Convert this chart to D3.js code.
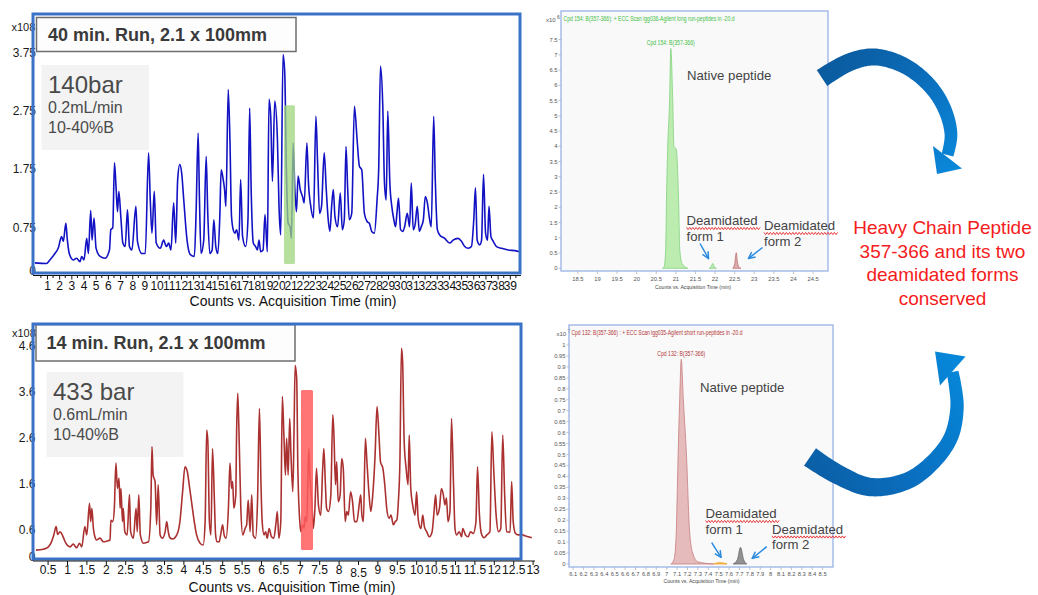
<!DOCTYPE html>
<html>
<head>
<meta charset="utf-8">
<script src="https://cdn.jsdelivr.net/npm/d3@7"></script>
<style>
  body { margin: 0; background: #fff; }
  svg { display: block; }
  text { font-family: "Liberation Sans", Arial, Helvetica, sans-serif; }
</style>
</head>
<body>
<svg id="fig" width="1038" height="595"></svg>
<script>
// ---------------- Data ----------------
// Total ion chromatogram, 40 min gradient (time in min, counts x10^8)
const longRunTrace = [
  [0,0.14],[0.96,0.13],[1.24,0.19],[1.65,0.30],[1.92,0.39],[2.20,0.59],[2.34,0.51],[2.55,0.82],[2.66,0.56],[2.83,0.30],
  [3.16,0.19],[3.43,0.22],[3.71,0.16],[3.85,0.25],[4.04,0.19],[4.26,0.56],[4.40,0.30],[4.59,1.04],[4.70,0.53],[4.86,0.91],
  [5.03,0.39],[5.36,0.25],[5.77,0.22],[6.13,0.36],[6.24,0.71],[6.40,0.74],[6.54,1.86],[6.68,1.40],[6.79,1.02],[6.90,1.37],
  [7.06,0.94],[7.23,0.48],[7.42,0.42],[7.61,1.05],[7.77,0.42],[7.97,0.36],[8.30,1.11],[8.43,0.51],[8.79,0.30],[9.07,0.30],
  [9.34,2.03],[9.48,1.22],[9.62,0.65],[9.81,1.37],[9.97,0.48],[10.30,0.39],[10.58,0.53],[10.80,0.42],[10.99,0.48],[11.18,0.36],
  [11.40,1.17],[11.57,0.48],[11.73,1.57],[11.90,1.83],[12.06,1.68],[12.23,1.22],[12.50,0.53],[12.77,0.28],[13.10,0.25],[13.24,0.99],
  [13.41,2.37],[13.52,1.22],[13.65,0.30],[13.87,0.53],[14.07,1.97],[14.20,0.99],[14.37,0.30],[14.56,0.36],[14.70,0.88],[14.86,0.42],
  [15.03,0.30],[15.19,0.94],[15.30,1.74],[15.47,1.57],[15.58,1.40],[15.69,1.11],[15.88,3.12],[16.02,2.26],[16.15,0.94],[16.29,0.71],
  [16.43,0.65],[16.57,0.71],[16.76,0.53],[16.90,1.57],[17.06,0.59],[17.31,0.42],[17.50,0.88],[17.64,2.80],[17.77,1.34],[17.94,0.48],
  [18.13,0.42],[18.27,0.36],[18.41,0.53],[18.54,0.33],[18.74,0.36],[18.90,0.97],[19.09,0.33],[19.23,2.95],[19.37,2.66],[19.51,1.54],
  [19.70,2.92],[19.92,2.26],[20.05,1.11],[20.19,0.62],[20.38,3.72],[20.52,3.41],[20.66,1.68],[20.80,0.82],[20.96,0.76],[21.07,0.56],
  [21.21,2.20],[21.35,1.40],[21.48,1.02],[21.62,1.63],[21.79,1.40],[21.98,1.28],[22.12,1.17],[22.34,2.20],[22.47,1.51],[22.66,1.11],
  [22.88,0.91],[23.08,2.66],[23.21,1.91],[23.38,0.99],[23.54,1.11],[23.76,2.03],[23.93,1.40],[24.09,0.88],[24.23,0.68],[24.37,1.11],
  [24.51,1.40],[24.64,0.94],[24.86,0.76],[25.08,1.34],[25.25,0.71],[25.41,0.88],[25.55,2.14],[25.69,1.40],[25.82,0.88],[26.02,0.99],
  [26.24,2.83],[26.46,2.26],[26.65,1.80],[26.84,1.74],[27.06,0.99],[27.28,0.85],[27.47,0.82],[27.66,0.68],[27.88,0.65],[28.10,1.22],
  [28.24,1.80],[28.38,3.52],[28.57,2.83],[28.71,1.51],[28.85,1.22],[28.98,2.75],[29.15,1.51],[29.31,1.11],[29.48,0.88],[29.62,0.76],
  [29.73,0.99],[29.86,1.25],[30.03,0.71],[30.22,0.68],[30.36,0.76],[30.58,0.99],[30.77,0.76],[30.91,1.51],[31.07,0.71],[31.24,0.82],
  [31.40,1.11],[31.57,0.68],[31.73,0.76],[31.90,0.88],[32.06,1.28],[32.23,1.17],[32.42,0.88],[32.55,0.76],[32.75,2.66],[32.88,1.57],
  [33.05,0.71],[33.24,0.62],[33.65,0.56],[34.07,0.48],[34.34,0.53],[34.75,0.56],[35.03,0.51],[35.30,0.42],[35.58,0.39],[35.85,0.42],
  [36.04,0.88],[36.18,1.43],[36.32,0.53],[36.54,0.45],[36.68,0.53],[36.84,1.66],[37.01,0.65],[37.17,0.53],[37.29,1.11],[37.45,0.59],
  [37.64,0.51],[37.91,0.42],[38.32,0.39],[38.87,0.36],[39.42,0.35],[39.84,0.33]
];

// Total ion chromatogram, 14 min gradient (time in min, counts x10^8)
const shortRunTrace = [
  [0.20,0.15],[0.39,0.17],[0.52,0.22],[0.60,0.33],[0.66,0.48],[0.72,0.66],[0.76,0.49],[0.82,0.55],[0.86,0.51],[0.91,0.42],
  [0.97,0.30],[1.08,0.22],[1.16,0.28],[1.25,0.20],[1.32,0.30],[1.38,0.22],[1.46,0.66],[1.51,0.48],[1.58,1.17],[1.61,0.77],
  [1.64,1.06],[1.68,0.62],[1.72,0.44],[1.76,0.37],[1.85,0.41],[1.94,0.33],[2.04,0.35],[2.11,0.37],[2.13,0.80],[2.18,0.77],
  [2.22,1.06],[2.26,2.04],[2.30,1.49],[2.34,1.71],[2.37,1.06],[2.39,1.49],[2.43,0.77],[2.45,1.06],[2.49,0.55],[2.55,0.48],
  [2.61,1.36],[2.64,0.55],[2.71,0.41],[2.78,1.06],[2.81,0.55],[2.85,1.35],[2.89,0.48],[2.97,0.30],[3.10,0.33],[3.16,1.06],
  [3.19,2.40],[3.22,1.78],[3.27,1.64],[3.31,0.70],[3.35,1.57],[3.40,0.48],[3.46,0.41],[3.53,0.55],[3.57,0.77],[3.61,0.55],
  [3.65,0.42],[3.72,0.39],[3.83,0.48],[3.91,0.77],[3.98,1.42],[4.04,1.96],[4.10,1.86],[4.15,1.57],[4.21,1.20],[4.28,0.77],
  [4.34,0.48],[4.43,0.30],[4.51,0.26],[4.56,0.77],[4.60,2.76],[4.63,2.51],[4.67,0.77],[4.71,0.48],[4.75,2.36],[4.80,1.20],
  [4.83,0.48],[4.87,0.33],[4.92,0.33],[4.96,0.48],[5.01,0.70],[5.05,0.48],[5.10,0.41],[5.16,1.06],[5.20,2.04],[5.24,1.49],
  [5.27,1.64],[5.30,1.06],[5.35,1.35],[5.37,2.65],[5.40,3.56],[5.43,2.80],[5.48,1.06],[5.53,0.48],[5.59,0.62],[5.63,0.70],
  [5.67,1.24],[5.72,0.55],[5.76,1.35],[5.80,0.48],[5.86,0.41],[5.91,1.20],[5.96,3.23],[6.00,1.57],[6.03,0.77],[6.08,0.48],
  [6.12,0.55],[6.16,0.41],[6.21,0.62],[6.27,0.44],[6.33,0.41],[6.39,0.77],[6.42,0.99],[6.46,0.41],[6.51,0.77],[6.55,3.49],
  [6.59,2.65],[6.63,1.78],[6.66,2.58],[6.70,1.78],[6.74,3.01],[6.77,2.29],[6.82,1.42],[6.85,2.65],[6.88,4.17],[6.92,3.88],
  [6.95,1.93],[7.00,0.77],[7.03,0.55],[7.07,0.70],[7.11,0.62],[7.14,0.88],[7.18,0.77],[7.23,2.36],[7.26,1.78],[7.31,1.20],
  [7.35,0.62],[7.39,1.06],[7.43,1.93],[7.48,1.13],[7.54,0.91],[7.59,1.93],[7.62,2.36],[7.66,1.57],[7.69,1.06],[7.74,0.99],
  [7.80,1.35],[7.85,3.09],[7.88,2.65],[7.92,1.57],[7.95,2.07],[7.99,1.20],[8.04,1.35],[8.08,2.14],[8.12,1.93],[8.17,0.77],
  [8.21,0.99],[8.25,0.91],[8.31,1.42],[8.36,1.20],[8.41,0.77],[8.47,0.77],[8.53,1.13],[8.57,1.35],[8.60,0.91],[8.64,0.77],
  [8.69,2.58],[8.73,2.07],[8.78,1.42],[8.83,0.99],[8.88,1.35],[8.94,2.21],[8.99,3.27],[9.04,2.65],[9.08,2.07],[9.14,1.93],
  [9.19,1.57],[9.24,1.06],[9.30,0.84],[9.35,0.91],[9.41,0.70],[9.46,0.77],[9.50,0.80],[9.54,1.20],[9.58,2.07],[9.62,4.54],
  [9.65,4.25],[9.69,2.51],[9.74,1.93],[9.79,1.57],[9.82,2.65],[9.86,1.49],[9.91,1.13],[9.97,0.91],[10.01,1.42],[10.05,0.84],
  [10.12,0.62],[10.17,0.91],[10.21,0.66],[10.27,0.55],[10.34,0.44],[10.41,0.55],[10.46,0.99],[10.50,1.35],[10.54,0.91],[10.60,1.06],
  [10.65,1.49],[10.70,1.35],[10.74,1.13],[10.78,1.28],[10.82,0.77],[10.87,0.99],[10.91,3.01],[10.96,1.64],[11.00,0.62],[11.04,0.48],
  [11.11,0.55],[11.17,0.44],[11.20,0.62],[11.27,0.48],[11.34,0.44],[11.40,0.55],[11.47,0.51],[11.54,0.77],[11.58,1.96],[11.63,0.91],
  [11.69,0.48],[11.75,0.42],[11.82,0.48],[11.90,0.55],[11.95,2.72],[12.00,1.86],[12.06,0.91],[12.12,0.55],[12.18,0.62],[12.23,2.65],
  [12.28,1.35],[12.33,0.55],[12.42,0.54],[12.46,1.64],[12.50,0.77],[12.56,0.51],[12.63,0.48],[12.72,0.49],[12.80,0.46],[12.89,0.44],
  [12.98,0.42]
];

const longRunXTicks = [1,2,3,4,5,6,7,8,9,10,11,12,13,14,15,16,17,18,19,20,21,22,23,24,25,26,27,28,29,30,31,32,33,34,35,36,37,38,39];
const longRunYTicks = [0, 0.75, 1.75, 2.75, 3.75];
const shortRunXTicks = [0.5,1,1.5,2,2.5,3,3.5,4,4.5,5,5.5,6,6.5,7,7.5,8,8.5,9,9.5,10,10.5,11,11.5,12,12.5,13];
const shortRunYTicks = [0, 0.6, 1.6, 2.6, 3.6, 4.6];

// Retention window of the 357-366 peptide in each TIC (min, counts x10^8)
const longRunWindow = { t0: 20.46, t1: 21.36, v0: 0.12, v1: 2.85 };
const shortRunWindow = { t0: 7.03, t1: 7.34, v0: 0.15, v1: 3.63 };

const longRunTitle = "40 min. Run, 2.1 x 100mm";
const longRunConditions = ["140bar", "0.2mL/min", "10-40%B"];
const shortRunTitle = "14 min. Run, 2.1 x 100mm";
const shortRunConditions = ["433 bar", "0.6mL/min", "10-40%B"];

// Extracted compound chromatograms (time in min; counts x10^6 for long run, x10^7 for short run)
const longEicNative = [[20.66,0],[20.70,0.05],[20.74,0.6],[20.76,2.2],[20.79,3.9],[20.84,5.5],[20.87,7.21],[20.92,5.5],[20.95,4.0],[21.01,3.9],[21.07,2.2],[21.10,0.6],[21.16,0.15],[21.30,0]];
const longEicDeam1 = [[21.85,0],[21.90,0.05],[21.94,0.16],[21.98,0.05],[22.03,0]];
const longEicDeam2 = [[22.45,0],[22.50,0.15],[22.54,0.51],[22.57,0.2],[22.62,0.02],[22.66,0]];
const longEicXTicks = [18.5,19,19.5,20,20.5,21,21.5,22,22.5,23,23.5,24,24.5];
const longEicYTicks = [0,0.5,1,1.5,2,2.5,3,3.5,4,4.5,5,5.5,6,6.5,7,7.5];

const shortEicNative = [[7.04,0],[7.07,0.02],[7.09,0.12],[7.11,0.5],[7.125,0.75],[7.14,0.935],[7.16,0.75],[7.19,0.5],[7.22,0.15],[7.25,0.05],[7.30,0.01],[7.45,0]];
const shortEicDeam1 = [[7.45,0],[7.50,0.006],[7.55,0.004],[7.58,0]];
const shortEicDeam2 = [[7.64,0],[7.68,0.02],[7.71,0.076],[7.74,0.02],[7.77,0]];
const shortEicXTicks = [6.1,6.2,6.3,6.4,6.5,6.6,6.7,6.8,6.9,7,7.1,7.2,7.3,7.4,7.5,7.6,7.7,7.8,7.9,8,8.1,8.2,8.3,8.4,8.5];
const shortEicYTicks = [0,0.05,0.1,0.15,0.2,0.25,0.3,0.35,0.4,0.45,0.5,0.55,0.6,0.65,0.7,0.75,0.8,0.85,0.9,0.95,1];

const conclusionLines = ["Heavy Chain Peptide", "357-366 and its two", "deamidated forms", "conserved"];

// ---------------- Drawing ----------------
const svg = d3.select("#fig");
const defs = svg.append("defs");
const fmt = d => String(d);

function drawTic(cfg) {
  const g = svg.append("g");
  const x = d3.scaleLinear().domain(cfg.xDomain).range(cfg.xRange);
  const y = d3.scaleLinear().domain(cfg.yDomain).range(cfg.yRange);
  const f = cfg.frame;

  // condition box
  g.append("rect").attr("x", cfg.condBox[0]).attr("y", cfg.condBox[1])
    .attr("width", cfg.condBox[2]).attr("height", cfg.condBox[3]).attr("fill", "#f3f3f3");
  cfg.conditions.forEach((t, i) => {
    g.append("text").attr("x", cfg.condText[0]).attr("y", cfg.condText[1] + (i === 0 ? 0 : 20 + (i - 1) * 19.7))
      .attr("font-size", i === 0 ? 24 : 16).attr("fill", "#4a4a4a").text(t);
  });

  // title box
  g.append("rect").attr("x", cfg.titleBox[0]).attr("y", cfg.titleBox[1])
    .attr("width", cfg.titleBox[2]).attr("height", cfg.titleBox[3])
    .attr("fill", "#fdfdfd").attr("stroke", "#6e6e6e").attr("stroke-width", 1.5);
  g.append("text").attr("x", cfg.titleText[0]).attr("y", cfg.titleText[1])
    .attr("font-size", 18).attr("font-weight", "bold").attr("fill", "#3a3a3a").text(cfg.title);

  // trace
  const clipId = cfg.id + "-clip";
  defs.append("clipPath").attr("id", clipId).append("rect")
    .attr("x", f.x0).attr("y", f.y0).attr("width", cfg.clipRight - f.x0).attr("height", f.y1 - f.y0);
  const line = d3.line().x(d => x(d[0])).y(d => y(d[1])).curve(d3.curveMonotoneX);
  g.append("path").datum(cfg.trace).attr("d", line).attr("clip-path", `url(#${clipId})`)
    .attr("fill", "none").attr("stroke", cfg.color).attr("stroke-width", 1.6)
    .attr("stroke-linejoin", "round").attr("stroke-opacity", cfg.traceOpacity);

  // highlighted retention window
  const w = cfg.window;
  g.append("rect").attr("x", x(w.t0)).attr("y", y(w.v1))
    .attr("width", x(w.t1) - x(w.t0)).attr("height", y(w.v0) - y(w.v1))
    .attr("rx", 1.5).attr("fill", cfg.windowColor).attr("fill-opacity", cfg.windowOpacity);

  // y tick labels
  g.selectAll(null).data(cfg.yTicks).join("text")
    .attr("x", cfg.yLabelX).attr("y", d => y(d)).attr("dy", "0.35em")
    .attr("text-anchor", "end").attr("font-size", 12).attr("fill", "#1a1a1a").text(fmt);
  g.append("text").attr("x", cfg.expPos[0]).attr("y", cfg.expPos[1])
    .attr("font-size", 11).attr("fill", "#1a1a1a").text("x108");

  // frame
  g.append("rect").attr("x", f.x0).attr("y", f.y0).attr("width", f.x1 - f.x0).attr("height", f.y1 - f.y0)
    .attr("fill", "none").attr("stroke", "#3a72c8").attr("stroke-width", 3);

  // x axis
  const ax = g.append("g").attr("transform", `translate(0,${cfg.axisY})`)
    .call(d3.axisBottom(x).tickValues(cfg.xTicks).tickSize(4).tickSizeOuter(0).tickFormat(fmt));
  ax.select(".domain").remove();
  ax.selectAll(".tick line").attr("stroke", "#111");
  ax.selectAll(".tick text").attr("font-size", 12).attr("fill", "#111")
    .attr("font-family", '"Liberation Sans", Arial, sans-serif')
    .attr("y", cfg.tickLabelDy).attr("dy", d => (cfg.lowLabel === d ? "0.96em" : "0.71em"));
  if (cfg.minorTicks) {
    g.selectAll(null).data(cfg.minorTicks).join("line")
      .attr("x1", d => x(d)).attr("x2", d => x(d)).attr("y1", cfg.axisY).attr("y2", cfg.axisY + 2.5)
      .attr("stroke", "#111");
  }
  g.append("line").attr("x1", f.x0).attr("x2", cfg.axisRight).attr("y1", cfg.axisY).attr("y2", cfg.axisY)
    .attr("stroke", "#111").attr("stroke-width", 1.2);
  g.append("text").attr("x", cfg.axisTitle[0]).attr("y", cfg.axisTitle[1]).attr("text-anchor", "middle")
    .attr("font-size", 14).attr("fill", "#111").text("Counts vs. Acquisition Time (min)");
}

drawTic({
  id: "long", trace: longRunTrace, color: "#1212c4", traceOpacity: 1,
  xDomain: [0, 40], xRange: [34.8, 522], yDomain: [0, 4.43], yRange: [271, 13.2],
  frame: { x0: 33, y0: 14, x1: 520, y1: 273 }, clipRight: 520,
  xTicks: longRunXTicks, yTicks: longRunYTicks,
  minorTicks: longRunXTicks.map(d => d - 0.5).concat([39.5]),
  window: longRunWindow, windowColor: "#9fd67f", windowOpacity: 0.75,
  title: longRunTitle, titleBox: [36.5, 17.5, 259.5, 34], titleText: [48, 41],
  conditions: longRunConditions, condBox: [41.5, 65, 107.5, 85], condText: [48, 93],
  yLabelX: 36, expPos: [11.5, 31], axisY: 275.5, axisRight: 521, tickLabelDy: 6,
  axisTitle: [293, 305.5]
});

drawTic({
  id: "short", trace: shortRunTrace, color: "#a41f1f", traceOpacity: 0.92,
  xDomain: [0, 13], xRange: [28.2, 532.6], yDomain: [0, 4.85], yRange: [557, 333.9],
  frame: { x0: 33, y0: 324, x1: 521, y1: 559 }, clipRight: 540,
  xTicks: shortRunXTicks, yTicks: shortRunYTicks, lowLabel: 8.5,
  window: shortRunWindow, windowColor: "#ff5c5c", windowOpacity: 0.85,
  title: shortRunTitle, titleBox: [36, 324.5, 259, 36.5], titleText: [46.5, 348.5],
  conditions: shortRunConditions, condBox: [46.5, 372, 137, 85], condText: [53, 400],
  yLabelX: 35.5, expPos: [12, 336.5], axisY: 561, axisRight: 535, tickLabelDy: 4.5,
  axisTitle: [292, 592]
});

// ---------------- Extracted compound chromatograms ----------------
function squiggle(x0, x1, y0) {
  const pts = [];
  for (let xx = x0, k = 0; xx <= x1; xx += 1.6, k++) pts.push([xx, y0 + (k % 2 ? 1.1 : -1.1)]);
  svg.append("path").attr("d", d3.line()(pts)).attr("fill", "none")
    .attr("stroke", "#e52424").attr("stroke-width", 0.9);
}

defs.append("marker").attr("id", "tip").attr("viewBox", "0 0 8 8").attr("refX", 7).attr("refY", 4)
  .attr("markerWidth", 8).attr("markerHeight", 8).attr("markerUnits", "userSpaceOnUse").attr("orient", "auto")
  .append("path").attr("d", "M0.5,0.8 L7,4 L0.5,7.2").attr("fill", "none")
  .attr("stroke", "#2a8ae0").attr("stroke-width", 1.5);

function drawEic(cfg) {
  const g = svg.append("g");
  const f = cfg.frame;
  const x = d3.scaleLinear().domain(cfg.xDomain).range([f.x0, f.x1]);
  const y = d3.scaleLinear().domain([0, 1]).range([cfg.zeroY, cfg.zeroY - cfg.unitPx]);

  g.append("rect").attr("x", f.x0).attr("y", f.y0).attr("width", f.x1 - f.x0).attr("height", f.y1 - f.y0)
    .attr("fill", "#f9f9fa");

  const area = d3.area().x(d => x(d[0])).y0(y(0)).y1(d => y(d[1])).curve(d3.curveMonotoneX);
  cfg.peaks.forEach(p => {
    g.append("path").datum(p.data).attr("d", area)
      .attr("fill", p.fill).attr("fill-opacity", p.opacity).attr("stroke", p.stroke).attr("stroke-width", 0.8);
  });

  // header and peak label
  g.append("text").attr("x", f.x0 + 2.5).attr("y", f.y0 + 9.5).attr("font-size", 6.5)
    .attr("textLength", cfg.headerLen).attr("lengthAdjust", "spacingAndGlyphs")
    .attr("fill", cfg.labelColor).text(cfg.header);
  const apex = cfg.peaks[0].data.reduce((a, b) => (b[1] > a[1] ? b : a));
  g.append("text").attr("x", x(apex[0])).attr("y", y(apex[1]) - 3).attr("text-anchor", "middle")
    .attr("font-size", 6.5).attr("textLength", 48).attr("lengthAdjust", "spacingAndGlyphs")
    .attr("fill", cfg.labelColor).text(cfg.peakLabel);

  // exponent
  const ex = g.append("text").attr("x", cfg.expPos[0]).attr("y", cfg.expPos[1]).attr("font-size", 6).attr("fill", "#555");
  ex.append("tspan").text("x10");
  ex.append("tspan").attr("dy", -3).attr("font-size", 5).text(" " + cfg.exponent);

  // y ticks
  g.selectAll(null).data(cfg.yTicks).join("line")
    .attr("x1", f.x0 - 2.5).attr("x2", f.x0).attr("y1", d => y(d)).attr("y2", d => y(d)).attr("stroke", "#999").attr("stroke-width", 0.6);
  g.selectAll(null).data(cfg.yTicks).join("text")
    .attr("x", f.x0 - 3.5).attr("y", d => y(d)).attr("dy", "0.35em").attr("text-anchor", "end")
    .attr("font-size", 5.8).attr("fill", "#555").text(fmt);

  // x ticks
  g.selectAll(null).data(cfg.xTicks).join("line")
    .attr("x1", d => x(d)).attr("x2", d => x(d)).attr("y1", f.y1).attr("y2", f.y1 + 3).attr("stroke", "#999").attr("stroke-width", 0.6);
  g.selectAll(null).data(cfg.xTicks).join("text")
    .attr("x", d => x(d)).attr("y", f.y1 + cfg.xLabelDy).attr("text-anchor", "middle")
    .attr("font-size", 5.8).attr("fill", "#555").text(fmt);
  g.append("text").attr("x", cfg.axisTitle[0]).attr("y", cfg.axisTitle[1]).attr("text-anchor", "middle")
    .attr("font-size", 6).attr("textLength", 76).attr("lengthAdjust", "spacingAndGlyphs")
    .attr("fill", "#444").text("Counts vs. Acquisition Time (min)");

  g.append("rect").attr("x", f.x0).attr("y", f.y0).attr("width", f.x1 - f.x0).attr("height", f.y1 - f.y0)
    .attr("fill", "none").attr("stroke", "#9ab2e6").attr("stroke-width", 1.3);

  // annotations
  const a = cfg.notes;
  g.append("text").attr("x", a.native[0]).attr("y", a.native[1]).attr("font-size", 13.2).attr("fill", "#444").text("Native peptide");
  [a.form1, a.form2].forEach((p, i) => {
    g.append("text").attr("x", p[0]).attr("y", p[1]).attr("font-size", 13.2).attr("fill", "#444").text("Deamidated");
    g.append("text").attr("x", p[0]).attr("y", p[1] + 15.5).attr("font-size", 13.2).attr("fill", "#444").text("form " + (i + 1));
    squiggle(p[0], p[0] + 74, p[1] + 3.5);
  });
  a.arrows.forEach(s => {
    g.append("line").attr("x1", s[0]).attr("y1", s[1]).attr("x2", s[2]).attr("y2", s[3])
      .attr("stroke", "#2a8ae0").attr("stroke-width", 1.5).attr("marker-end", "url(#tip)");
  });
}

drawEic({
  frame: { x0: 561, y0: 11, x1: 828, y1: 271 }, xDomain: [18.07, 24.88],
  zeroY: 268.3, unitPx: 30.5, exponent: "6", expPos: [546, 21.5],
  peaks: [
    { data: longEicNative, fill: "#b6eaa9", stroke: "#7fd27a", opacity: 0.9 },
    { data: longEicDeam1, fill: "#b6eaa9", stroke: "#7fd27a", opacity: 0.9 },
    { data: longEicDeam2, fill: "#d6a2a2", stroke: "#bf7070", opacity: 0.9 }
  ],
  labelColor: "#3fbf3f",
  header: "Cpd 154: B(357-366): + ECC Scan igg036-Agilent long run-peptides in -20.d", headerLen: 171,
  peakLabel: "Cpd 154: B(357-366)",
  xTicks: longEicXTicks, yTicks: longEicYTicks, xLabelDy: 10, axisTitle: [693, 288.5],
  notes: {
    native: [687, 79.5], form1: [686.5, 225], form2: [764, 230],
    arrows: [[700, 243.5, 708.5, 258.5], [762.5, 247.5, 748.5, 258.5]]
  }
});

drawEic({
  frame: { x0: 569, y0: 325, x1: 833, y1: 567 }, xDomain: [6.06, 8.6],
  zeroY: 564, unitPx: 219, exponent: "7", expPos: [556.5, 335.5],
  peaks: [
    { data: shortEicNative, fill: "#e2b4b4", stroke: "#c77c7c", opacity: 0.9 },
    { data: shortEicDeam1, fill: "#f6c46a", stroke: "#f0a020", opacity: 1 },
    { data: shortEicDeam2, fill: "#8c8c8c", stroke: "#666", opacity: 0.95 }
  ],
  labelColor: "#b33636",
  header: "Cpd 132: B(357-366) : + ECC Scan igg035-Agilent short run-peptides in -20.d", headerLen: 171,
  peakLabel: "Cpd 132: B(357-366)",
  xTicks: shortEicXTicks, yTicks: shortEicYTicks, xLabelDy: 8.5, axisTitle: [701.5, 583],
  notes: {
    native: [700, 392], form1: [705.5, 518], form2: [772, 533.5],
    arrows: [[711.7, 542.7, 721, 557.3], [766.7, 546.7, 752.3, 558.3]]
  }
});

// ---------------- Curved arrows ----------------
function gradient(id, p0, p1, stops) {
  const lg = defs.append("linearGradient").attr("id", id).attr("gradientUnits", "userSpaceOnUse")
    .attr("x1", p0[0]).attr("y1", p0[1]).attr("x2", p1[0]).attr("y2", p1[1]);
  stops.forEach(s => lg.append("stop").attr("offset", s[0]).attr("stop-color", s[1]));
}
gradient("gTop", [815, 70], [955, 170], [[0, "#0b5a9c"], [0.5, "#0b6bb8"], [1, "#0a88da"]]);
gradient("gBot", [805, 470], [955, 360], [[0, "#0b5ea4"], [0.45, "#0a6fc0"], [1, "#0687d9"]]);

function curvedArrow(pts, w0, w1, head, grad) {
  const tmp = svg.append("path").attr("d", d3.line().curve(d3.curveCatmullRom.alpha(0.5))(pts)).attr("fill", "none");
  const node = tmp.node(), L = node.getTotalLength(), N = 90;
  const left = [], right = [];
  for (let i = 0; i <= N; i++) {
    const s = i / N, p = node.getPointAtLength(s * L);
    const a = node.getPointAtLength(Math.max(0, s * L - 0.6)), b = node.getPointAtLength(Math.min(L, s * L + 0.6));
    const dx = b.x - a.x, dy = b.y - a.y, m = Math.hypot(dx, dy) || 1;
    const nx = -dy / m, ny = dx / m, hw = (w0 + (w1 - w0) * s) / 2;
    left.push([p.x + nx * hw, p.y + ny * hw]);
    right.push([p.x - nx * hw, p.y - ny * hw]);
  }
  tmp.remove();
  svg.append("path").attr("d", "M" + left.join("L") + "L" + right.reverse().join("L") + "Z").attr("fill", `url(#${grad})`);
  svg.append("path").attr("d", "M" + head.join("L") + "Z").attr("fill", `url(#${grad})`);
}

curvedArrow([[822, 78], [850, 62], [875, 57], [905, 66], [930, 86], [945, 110], [951, 135], [947.5, 155]],
  19, 12, [[933, 146], [962, 168.5], [937, 174]], "gTop");
curvedArrow([[810, 457], [837, 474], [870, 487], [907, 481], [933, 462], [951, 437], [957, 408], [955, 385], [952.5, 372]],
  21, 12, [[940, 385.5], [965.5, 356.5], [935, 351.5]], "gBot");

// ---------------- Conclusion text ----------------
svg.selectAll(null).data(conclusionLines).join("text")
  .attr("x", 942.5).attr("y", (d, i) => 234 + i * 23.5).attr("text-anchor", "middle")
  .attr("font-size", 19).attr("fill", "#f41c1c").text(d => d);
</script>
</body>
</html>
